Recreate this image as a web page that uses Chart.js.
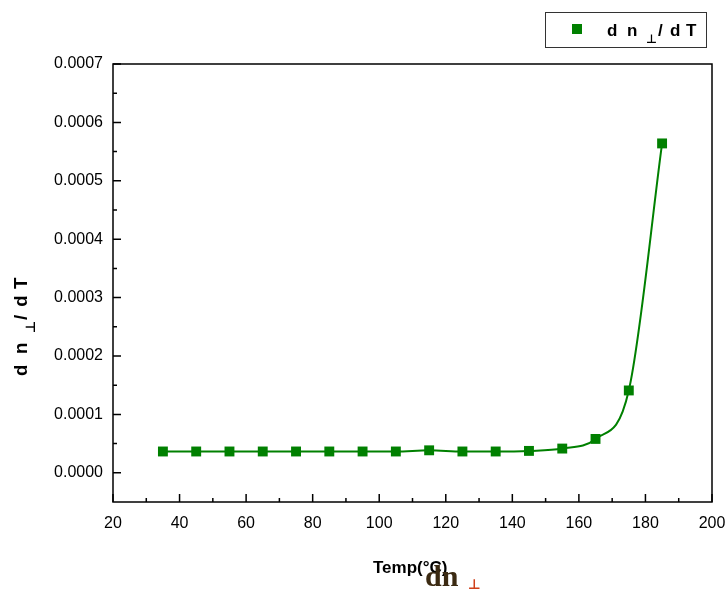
<!DOCTYPE html>
<html>
<head>
<meta charset="utf-8">
<script src="https://cdn.jsdelivr.net/npm/chart.js@4/dist/chart.umd.min.js"></script>
<style>
  html, body { margin: 0; padding: 0; background: #fff; }
  #wrap { width: 727px; height: 591px; }
</style>
</head>
<body>
<div id="wrap"><canvas id="c" width="727" height="591"></canvas></div>
<script>
// dn/dT vs temperature
const temps = [35, 45, 55, 65, 75, 85, 95, 105, 115, 125, 135, 145, 155, 165, 175, 185];
const dndT = [0.0000365, 0.0000365, 0.0000365, 0.0000365, 0.0000365, 0.0000365, 0.0000365, 0.0000365,
              0.0000385, 0.0000365, 0.0000365, 0.0000375, 0.0000415, 0.000058, 0.000141, 0.000564];
const xTicks = [20, 40, 60, 80, 100, 120, 140, 160, 180, 200];
const xMinor = [30, 50, 70, 90, 110, 130, 150, 170, 190];
const yTicks = [0, 0.0001, 0.0002, 0.0003, 0.0004, 0.0005, 0.0006, 0.0007];
const yMinor = [0.00005, 0.00015, 0.00025, 0.00035, 0.00045, 0.00055, 0.00065];

const GREEN = '#008000';
const boldFont = 'bold 17px "Liberation Sans", Arial, sans-serif';

// "d n ⊥ / d T", each glyph placed by hand so the spacing stays wide
function drawSymbol(ctx, x, y, k) {
  const parts = [['d', 0, 0], ['n', 20, 0], ['/', 51, 0], ['d', 63, 0], ['T', 79, 0]];
  ctx.textBaseline = 'alphabetic';
  ctx.textAlign = 'left';
  ctx.font = 'bold ' + (17 * k) + 'px "Liberation Sans", Arial, sans-serif';
  parts.forEach(p => ctx.fillText(p[0], x + p[1] * k, y + p[2] * k));
  ctx.font = 'bold ' + (12 * k) + 'px "DejaVu Sans", sans-serif';
  ctx.fillText('\u22A5', x + 39 * k, y + 7 * k);
}

const framePlugin = {
  id: 'frame',
  afterDraw(chart) {
    const { ctx, chartArea: a, scales } = chart;
    const xs = scales.x, ys = scales.y;
    ctx.save();
    ctx.strokeStyle = '#000';
    ctx.lineWidth = 1.5;
    ctx.strokeRect(a.left, a.top, a.right - a.left, a.bottom - a.top);

    ctx.beginPath();
    xTicks.forEach(v => { const px = xs.getPixelForValue(v); ctx.moveTo(px, a.bottom); ctx.lineTo(px, a.bottom - 8); });
    xMinor.forEach(v => { const px = xs.getPixelForValue(v); ctx.moveTo(px, a.bottom); ctx.lineTo(px, a.bottom - 4); });
    yTicks.forEach(v => { const py = ys.getPixelForValue(v); ctx.moveTo(a.left, py); ctx.lineTo(a.left + 8, py); });
    yMinor.forEach(v => { const py = ys.getPixelForValue(v); ctx.moveTo(a.left, py); ctx.lineTo(a.left + 4, py); });
    ctx.stroke();

    // legend box
    ctx.lineWidth = 1;
    ctx.strokeStyle = '#333';
    ctx.strokeRect(545.5, 12.5, 161, 35);
    ctx.fillStyle = GREEN;
    ctx.fillRect(572, 24, 10, 10);
    ctx.fillStyle = '#000';
    drawSymbol(ctx, 607, 36, 1);

    // axis titles
    ctx.font = boldFont;
    ctx.textAlign = 'left';
    ctx.fillStyle = '#000';
    ctx.fillText('Temp(\u00B0C)', 373, 573);

    ctx.save();
    ctx.translate(27, 376);
    ctx.rotate(-Math.PI / 2);
    drawSymbol(ctx, 0, 0, 1.1);
    ctx.restore();

    // overprinted glyphs under the x title
    ctx.font = 'bold 30px "Liberation Serif", "DejaVu Serif", serif';
    ctx.fillStyle = '#3b2a12';
    ctx.fillText('dn', 425, 586);
    ctx.font = 'bold 14px "DejaVu Sans", sans-serif';
    ctx.fillStyle = '#d0401a';
    ctx.fillText('\u22A5', 468, 589);
    ctx.restore();
  }
};

new Chart(document.getElementById('c'), {
  type: 'line',
  data: {
    datasets: [{
      label: 'dn/dT',
      data: temps.map((t, i) => ({ x: t, y: dndT[i] })),
      borderColor: GREEN,
      backgroundColor: GREEN,
      borderWidth: 2,
      pointStyle: 'rect',
      pointRadius: 7,
      pointBorderWidth: 0,
      cubicInterpolationMode: 'monotone'
    }]
  },
  options: {
    responsive: false,
    animation: false,
    layout: { padding: { left: 0, top: 64, right: 15, bottom: 0 } },
    plugins: { legend: { display: false }, tooltip: { enabled: false } },
    scales: {
      x: {
        type: 'linear',
        min: 20,
        max: 200,
        grid: { display: false, drawTicks: false },
        border: { display: false },
        afterFit(s) { s.height = 89; s.paddingLeft = 0; s.paddingRight = 0; },
        afterBuildTicks(s) { s.ticks = xTicks.map(v => ({ value: v })); },
        ticks: { font: { family: '"Liberation Sans", Arial, sans-serif', size: 16 }, color: '#000', padding: 12, maxRotation: 0 }
      },
      y: {
        type: 'linear',
        min: -0.00005,
        max: 0.0007,
        grid: { display: false, drawTicks: false },
        border: { display: false },
        afterFit(s) { s.width = 113; s.paddingTop = 0; s.paddingBottom = 0; },
        afterBuildTicks(s) { s.ticks = yTicks.map(v => ({ value: v })); },
        ticks: {
          font: { family: '"Liberation Sans", Arial, sans-serif', size: 16 },
          color: '#000',
          padding: 10,
          callback: v => v.toFixed(4)
        }
      }
    }
  },
  plugins: [framePlugin]
});
</script>
</body>
</html>
